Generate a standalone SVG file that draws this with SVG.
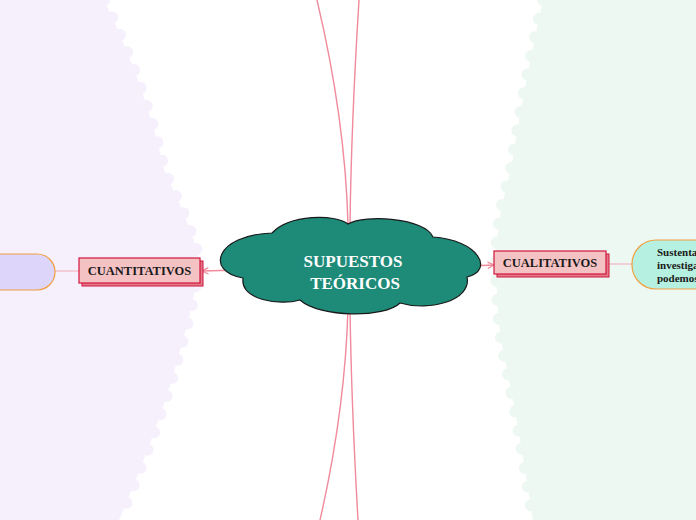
<svg xmlns="http://www.w3.org/2000/svg" width="696" height="520" viewBox="0 0 696 520">
<defs>
<style>
.bgL{fill:#f6effc}
.edgeL{fill:none;stroke:#f6effc;stroke-width:12;stroke-linecap:round;stroke-dasharray:0 19}
.bgR{fill:#eef8f2}
.edgeR{fill:none;stroke:#eef8f2;stroke-width:12;stroke-linecap:round;stroke-dasharray:0 19}
.conn{fill:none;stroke:#f08a9c;stroke-width:1.4}
.thin{fill:none;stroke:#f4b6c2;stroke-width:1.2}
.box{fill:#f5c2c4;stroke:#d0143c;stroke-width:1.2}
.shadow{fill:#e27a8a;stroke:#d0143c;stroke-width:1}
.btxt{font-family:"Liberation Serif",serif;font-weight:bold;font-size:12.5px;fill:#1a1a1a;text-anchor:middle}
.ctxt{font-family:"Liberation Serif",serif;font-weight:bold;font-size:17px;fill:#ffffff;text-anchor:middle}
.pill{stroke:#f0a040;stroke-width:1.2}
.ntxt{font-family:"Liberation Serif",serif;font-weight:bold;font-size:11px;fill:#1a1a1a}
</style>
<marker id="arr" viewBox="0 0 10 10" refX="9" refY="5" markerWidth="8" markerHeight="8" orient="auto-start-reverse" markerUnits="userSpaceOnUse">
<path d="M1,1 L9,5 L1,9" fill="none" stroke="#f08a9c" stroke-width="1.6"/>
</marker>
</defs>
<rect width="696" height="520" fill="#ffffff"/>
<g id="bg-left">
<path class="bgL" d="M0,0 L104,0 Q147,90 164,170 Q197,240 199,262 Q195,300 180,350 Q162,420 119,520 L0,520 Z"/>
<path class="edgeL" d="M104,0 Q147,90 164,170 Q197,240 199,262 Q195,300 180,350 Q162,420 119,520"/>
</g>
<g id="bg-right">
<path class="bgR" d="M696,0 L543,0 Q523,90 511,170 Q496,220 496,262 Q497,320 503,350 Q518,420 533,520 L696,520 Z"/>
<path class="edgeR" d="M543,0 Q523,90 511,170 Q496,220 496,262 Q497,320 503,350 Q518,420 533,520"/>
</g>
<g id="connectors">
<path class="conn" d="M348,224 C346,150 336,80 317,0"/>
<path class="conn" d="M350,224 C351,150 354,80 359,0"/>
<path class="conn" d="M348,308 C346,380 336,450 320,520"/>
<path class="conn" d="M350,308 C351,380 354,450 358,520"/>
<path class="conn" d="M240,270 L202,271" marker-end="url(#arr)"/>
<path class="conn" d="M470,266 L494,265" marker-end="url(#arr)"/>
<path class="thin" d="M55,271 L80,271"/>
<path class="thin" d="M606,264 L632,264"/>
</g>
<g id="central">
<path d="M272,233 C290,214 335,214 348,224 C365,214 425,218 433,237 C478,240 495,270 467,277 C472,300 430,312 400,303 C385,318 320,318 300,300 C280,306 240,300 243,278 C205,272 215,235 272,233 Z" fill="#1e8a78" stroke="#1a1a1a" stroke-width="1.2"/>
<text class="ctxt" x="353" y="267">SUPUESTOS</text>
<text class="ctxt" x="355" y="289">TEÓRICOS</text>
</g>
<g id="cuantitativos">
<rect class="shadow" x="82" y="261" width="121" height="25"/>
<rect class="box" x="79" y="258" width="121" height="25"/>
<text class="btxt" x="139.5" y="275">CUANTITATIVOS</text>
</g>
<g id="left-node">
<rect class="pill" x="-40" y="254" width="95" height="36" rx="18" fill="#ddd5fa"/>
</g>
<g id="cualitativos">
<rect class="shadow" x="497" y="254" width="112" height="23"/>
<rect class="box" x="494" y="251" width="112" height="23"/>
<text class="btxt" x="550" y="267">CUALITATIVOS</text>
</g>
<g id="right-node">
<rect class="pill" x="632" y="240" width="110" height="49" rx="24" fill="#b6f0e0"/>
<text class="ntxt" x="657" y="256">Sustenta</text>
<text class="ntxt" x="657" y="269">investiga</text>
<text class="ntxt" x="657" y="282">podemos</text>
</g>
</svg>
